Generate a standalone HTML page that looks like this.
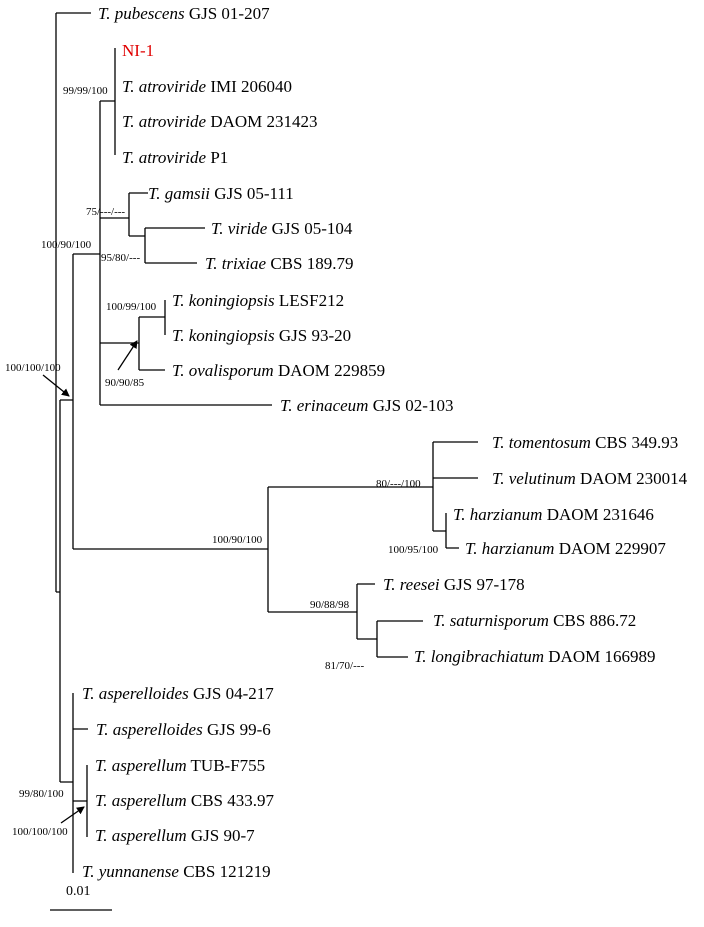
<!DOCTYPE html>
<html><head><meta charset="utf-8"><style>
html,body{margin:0;padding:0;background:#fff;}
svg{display:block;}
text{font-family:"Liberation Serif",serif;fill:#000;}
.t{font-size:17px;}
.b{font-size:11px;}
</style></head><body>
<svg width="704" height="927" viewBox="0 0 704 927" xmlns="http://www.w3.org/2000/svg">
<defs><marker id="ah" markerWidth="8" markerHeight="8" refX="7" refY="4" orient="auto" markerUnits="userSpaceOnUse"><path d="M0,0 L8,4 L0,8 z" fill="#000"/></marker></defs>
<g stroke="#000" stroke-width="1.3" fill="none">
<path d="M56,13V592 M56,13H91"/>
<path d="M60,400V782 M56,592H60 M60,400H73"/>
<path d="M73,254V549 M73,254H100"/>
<path d="M100,101V405 M100,101H115 M115,48V155"/>
<path d="M100,218H129 M129,193V236 M129,193H148 M129,236H145 M145,228V263 M145,228H205 M145,263H197"/>
<path d="M100,343H139 M139,317V370 M139,317H165 M165,300V335 M139,370H165"/>
<path d="M100,405H272"/>
<path d="M73,549H268 M268,487V612 M268,487H433 M433,442V531 M433,442H478 M433,478H478 M433,531H446 M446,513V548 M446,548H459"/>
<path d="M268,612H357 M357,584V639 M357,584H375 M357,639H377 M377,621V657 M377,621H423 M377,657H408"/>
<path d="M60,782H73 M73,693V873 M73,729H88 M73,801H87 M87,765V837"/>
<path d="M50,910H112"/>
<path d="M43,375L69,396" marker-end="url(#ah)"/>
<path d="M118,370L137,341" marker-end="url(#ah)"/>
<path d="M61,823L84,807" marker-end="url(#ah)"/>
</g>
<g class="t">
<text x="98" y="19"><tspan font-style="italic">T. pubescens</tspan> GJS 01-207</text>
<text x="122" y="56" style="fill:#e00000">NI-1</text>
<text x="122" y="92"><tspan font-style="italic">T. atroviride</tspan> IMI 206040</text>
<text x="122" y="127"><tspan font-style="italic">T. atroviride</tspan> DAOM 231423</text>
<text x="122" y="163"><tspan font-style="italic">T. atroviride</tspan> P1</text>
<text x="148" y="199"><tspan font-style="italic">T. gamsii</tspan> GJS 05-111</text>
<text x="211" y="234"><tspan font-style="italic">T. viride</tspan> GJS 05-104</text>
<text x="205" y="269"><tspan font-style="italic">T. trixiae</tspan> CBS 189.79</text>
<text x="172" y="306"><tspan font-style="italic">T. koningiopsis</tspan> LESF212</text>
<text x="172" y="341"><tspan font-style="italic">T. koningiopsis</tspan> GJS 93-20</text>
<text x="172" y="376"><tspan font-style="italic">T. ovalisporum</tspan> DAOM 229859</text>
<text x="280" y="411"><tspan font-style="italic">T. erinaceum</tspan> GJS 02-103</text>
<text x="492" y="448"><tspan font-style="italic">T. tomentosum</tspan> CBS 349.93</text>
<text x="492" y="484"><tspan font-style="italic">T. velutinum</tspan> DAOM 230014</text>
<text x="453" y="520"><tspan font-style="italic">T. harzianum</tspan> DAOM 231646</text>
<text x="465" y="554"><tspan font-style="italic">T. harzianum</tspan> DAOM 229907</text>
<text x="383" y="590"><tspan font-style="italic">T. reesei</tspan> GJS 97-178</text>
<text x="433" y="626"><tspan font-style="italic">T. saturnisporum</tspan> CBS 886.72</text>
<text x="414" y="662"><tspan font-style="italic">T. longibrachiatum</tspan> DAOM 166989</text>
<text x="82" y="699"><tspan font-style="italic">T. asperelloides</tspan> GJS 04-217</text>
<text x="96" y="735"><tspan font-style="italic">T. asperelloides</tspan> GJS 99-6</text>
<text x="95" y="771"><tspan font-style="italic">T. asperellum</tspan> TUB-F755</text>
<text x="95" y="806"><tspan font-style="italic">T. asperellum</tspan> CBS 433.97</text>
<text x="95" y="841"><tspan font-style="italic">T. asperellum</tspan> GJS 90-7</text>
<text x="82" y="877"><tspan font-style="italic">T. yunnanense</tspan> CBS 121219</text>
</g>
<g class="b">
<text x="63" y="94">99/99/100</text>
<text x="86" y="215">75/---/---</text>
<text x="41" y="248">100/90/100</text>
<text x="101" y="261">95/80/---</text>
<text x="106" y="310">100/99/100</text>
<text x="105" y="386">90/90/85</text>
<text x="5" y="371">100/100/100</text>
<text x="376" y="487">80/---/100</text>
<text x="212" y="543">100/90/100</text>
<text x="388" y="553">100/95/100</text>
<text x="310" y="608">90/88/98</text>
<text x="325" y="669">81/70/---</text>
<text x="19" y="797">99/80/100</text>
<text x="12" y="835">100/100/100</text>
</g>
<text x="66" y="895" style="font-size:14px">0.01</text>
</svg>
</body></html>
